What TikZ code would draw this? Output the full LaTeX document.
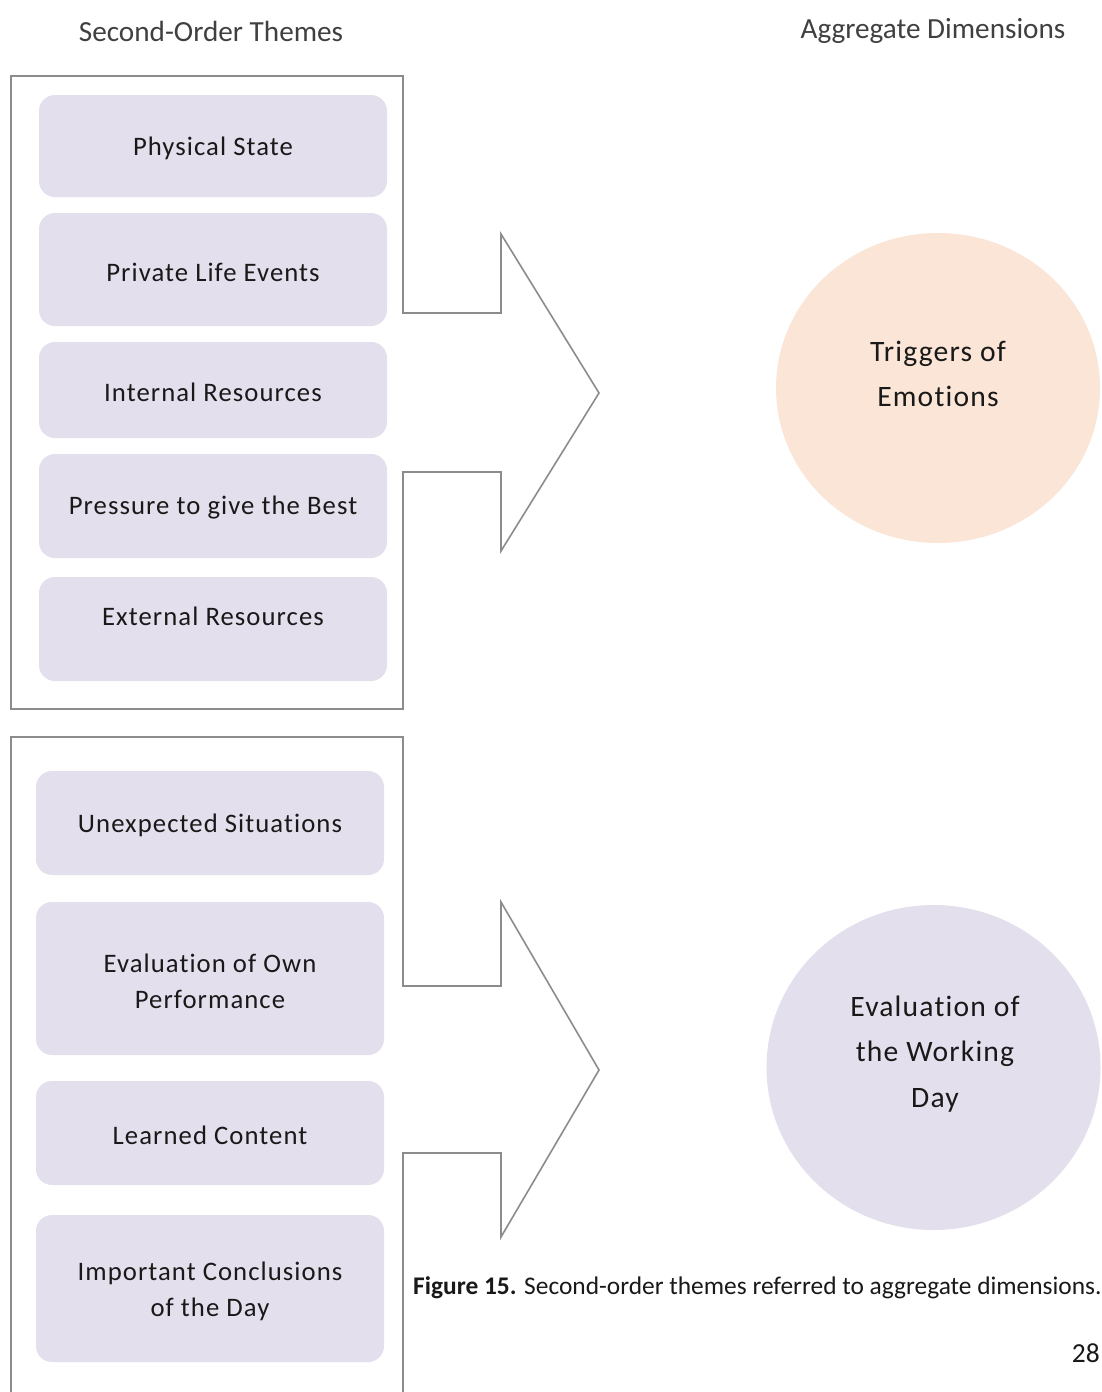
\documentclass[tikz,border=0pt]{standalone}
\usepackage{fontspec}
\setmainfont{Carlito}
\newfontfamily\boxfont[LetterSpace=4,Ligatures=NoCommon]{Carlito}
\usetikzlibrary{shapes.geometric}
\definecolor{lav}{HTML}{E4DFEC}
\definecolor{peach}{HTML}{FBE5D6}
\definecolor{outl}{HTML}{8C8C8C}
\definecolor{headc}{HTML}{404040}
\tikzset{
  themebox/.style={draw=none, fill=lav, rounded corners=16pt, minimum width=348pt, inner sep=0pt},
  boxtext/.style={font=\boxfont\fontsize{26.7}{36}\selectfont, align=center, text=black!90, inner sep=0pt},
  heading/.style={font=\fontsize{29.2}{32}\selectfont, text=headc, inner sep=0pt},
  dimcircle/.style={ellipse, draw=none, inner sep=0pt},
  dimtext/.style={font=\boxfont\fontsize{29.6}{45.5}\selectfont, align=center, text=black!90, inner sep=0pt},
  outline/.style={draw=outl, line width=1.6pt, line join=miter},
}
\begin{document}
\begin{tikzpicture}[x=1pt,y=-1pt]
\useasboundingbox (0,0) rectangle (1101,1392);
\clip (0,0) rectangle (1101,1392);
\fill[white] (0,0) rectangle (1101,1392);

% headings
\node[heading] (h1) at (211,31) {Second-Order Themes};
\node[heading] (h2) at (933,31) {Aggregate Dimensions};

% outline frames with arrows
\draw[outline] (11,76) -- (403,76) -- (403,313) -- (501,313) -- (501,234) -- (599,393)
  -- (501,551) -- (501,472) -- (403,472) -- (403,709) -- (11,709) -- cycle;
\draw[outline] (11,1420) -- (11,737) -- (403,737) -- (403,986) -- (501,986) -- (501,902) -- (599,1070)
  -- (501,1237) -- (501,1153) -- (403,1153) -- (403,1420);

% top boxes
\node[themebox, minimum height=102pt] (b1) at (213,146) {};
\node[themebox, minimum height=113pt] (b2) at (213,269.5) {};
\node[themebox, minimum height=96pt] (b3) at (213,390) {};
\node[themebox, minimum height=104pt] (b4) at (213,506) {};
\node[themebox, minimum height=104pt] (b5) at (213,629) {};
\node[boxtext] (t1) at (213,148) {Physical State};
\node[boxtext] (t2) at (213,272) {Private Life Events};
\node[boxtext] (t3) at (213,392) {Internal Resources};
\node[boxtext] (t4) at (213,508) {Pressure to give the Best};
\node[boxtext] (t5) at (213,616) {External Resources};

% bottom boxes
\node[themebox, minimum height=104pt] (c1) at (210,823) {};
\node[themebox, minimum height=153pt] (c2) at (210,978.5) {};
\node[themebox, minimum height=104pt] (c3) at (210,1133) {};
\node[themebox, minimum height=147pt] (c4) at (210,1288.5) {};
\node[boxtext] (u1) at (210,825) {Unexpected Situations};
\node[boxtext] (u2) at (210,981) {Evaluation of Own\\Performance};
\node[boxtext] (u3) at (210,1135) {Learned Content};
\node[boxtext] (u4) at (210,1291) {Important Conclusions\\of the Day};

% aggregate dimensions
\node[dimcircle, fill=peach, minimum width=324pt, minimum height=310pt] (d1) at (938,388) {};
\node[dimtext] (e1) at (938,374) {Triggers of\\Emotions};
\node[dimcircle, fill=lav, minimum width=334pt, minimum height=325pt] (d2) at (933.5,1067.5) {};
\node[dimtext] (e2) at (935,1054) {Evaluation of\\the Working\\Day};

% caption and page number
\node[font=\fontsize{25.4}{28}\selectfont, anchor=west, inner sep=0pt, text=black!90] (cap) at (413,1288)
  {\textbf{Figure 15.} Second-order themes referred to aggregate dimensions.};
\node[font=\fontsize{27.5}{30}\selectfont, anchor=east, inner sep=0pt, text=black!90] (pg) at (1100,1353) {28};
\end{tikzpicture}
\end{document}
